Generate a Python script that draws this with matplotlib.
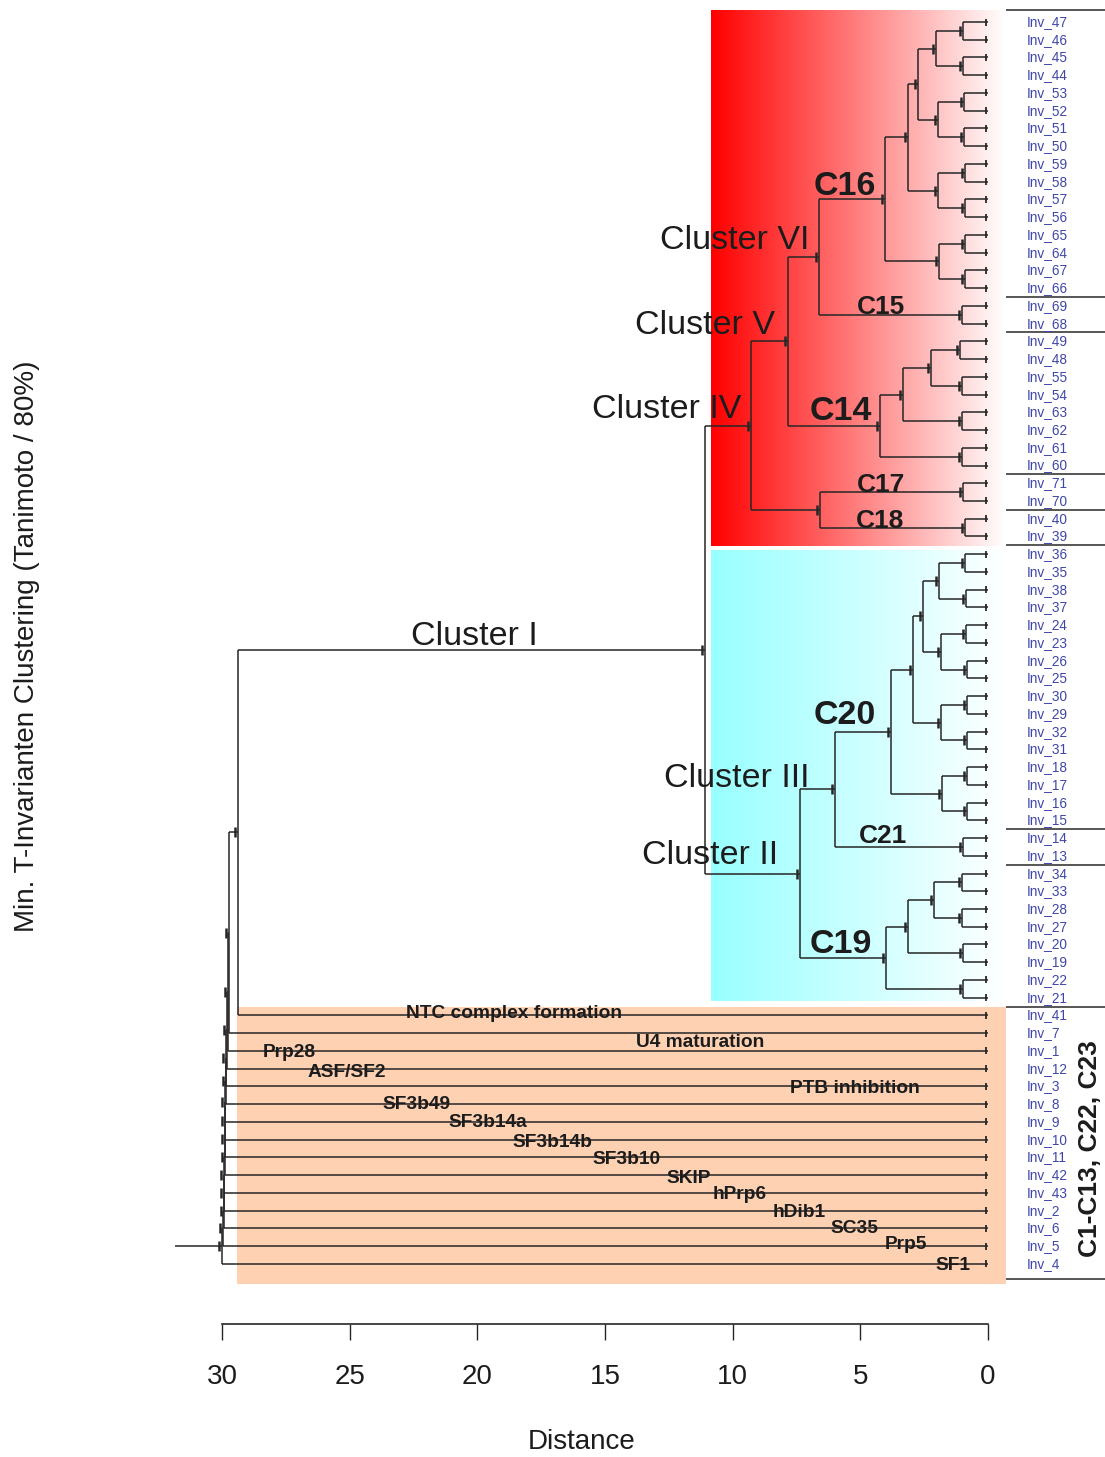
import numpy as np
import matplotlib
matplotlib.use("Agg")
import matplotlib.pyplot as plt
from matplotlib.collections import LineCollection
from matplotlib.patches import Rectangle

plt.rcParams['font.family'] = ['Liberation Sans', 'DejaVu Sans']

# ---------------------------------------------------------------- data
# leaf order, top to bottom
leaves = ["Inv_47", "Inv_46", "Inv_45", "Inv_44", "Inv_53", "Inv_52", "Inv_51", "Inv_50",
          "Inv_59", "Inv_58", "Inv_57", "Inv_56", "Inv_65", "Inv_64", "Inv_67", "Inv_66",
          "Inv_69", "Inv_68",
          "Inv_49", "Inv_48", "Inv_55", "Inv_54", "Inv_63", "Inv_62", "Inv_61", "Inv_60",
          "Inv_71", "Inv_70", "Inv_40", "Inv_39",
          "Inv_36", "Inv_35", "Inv_38", "Inv_37", "Inv_24", "Inv_23", "Inv_26", "Inv_25",
          "Inv_30", "Inv_29", "Inv_32", "Inv_31", "Inv_18", "Inv_17", "Inv_16", "Inv_15",
          "Inv_14", "Inv_13",
          "Inv_34", "Inv_33", "Inv_28", "Inv_27", "Inv_20", "Inv_19", "Inv_22", "Inv_21",
          "Inv_41", "Inv_7", "Inv_1", "Inv_12", "Inv_3", "Inv_8", "Inv_9", "Inv_10",
          "Inv_11", "Inv_42", "Inv_43", "Inv_2", "Inv_6", "Inv_5", "Inv_4"]

# merges: (node, upper child, lower child, merge distance)
merges_c16 = [
    ("a1", "Inv_47", "Inv_46", 0.97), ("a2", "Inv_45", "Inv_44", 0.97),
    ("a3", "a1", "a2", 2.04),
    ("a4", "Inv_53", "Inv_52", 0.93), ("a5", "Inv_51", "Inv_50", 0.93),
    ("a6", "a4", "a5", 1.95),
    ("a7", "a3", "a6", 2.73),
    ("a8", "Inv_59", "Inv_58", 0.90), ("a9", "Inv_57", "Inv_56", 0.90),
    ("a10", "a8", "a9", 1.95),
    ("a11", "a7", "a10", 3.12),
    ("a12", "Inv_65", "Inv_64", 0.90), ("a13", "Inv_67", "Inv_66", 0.90),
    ("a14", "a12", "a13", 1.91),
    ("C16", "a11", "a14", 4.03),
]
merges_c15 = [("C15", "Inv_69", "Inv_68", 1.03)]
merges_c14 = [
    ("b1", "Inv_49", "Inv_48", 1.10), ("b2", "Inv_55", "Inv_54", 1.03),
    ("b3", "b1", "b2", 2.23),
    ("b4", "Inv_63", "Inv_62", 1.00),
    ("b5", "b3", "b4", 3.32),
    ("b6", "Inv_61", "Inv_60", 1.00),
    ("C14", "b5", "b6", 4.23),
]
merges_c17_c18 = [
    ("C17", "Inv_71", "Inv_70", 0.97),
    ("C18", "Inv_40", "Inv_39", 0.90),
    ("c1", "C17", "C18", 6.58),
]
merges_c20 = [
    ("d1", "Inv_36", "Inv_35", 0.90), ("d2", "Inv_38", "Inv_37", 0.88),
    ("d3", "d1", "d2", 1.91),
    ("d4", "Inv_24", "Inv_23", 0.88), ("d5", "Inv_26", "Inv_25", 0.83),
    ("d6", "d4", "d5", 1.85),
    ("d7", "d3", "d6", 2.56),
    ("d8", "Inv_30", "Inv_29", 0.83), ("d9", "Inv_32", "Inv_31", 0.83),
    ("d10", "d8", "d9", 1.85),
    ("d11", "d7", "d10", 2.95),
    ("d12", "Inv_18", "Inv_17", 0.83), ("d13", "Inv_16", "Inv_15", 0.83),
    ("d14", "d12", "d13", 1.81),
    ("C20", "d11", "d14", 3.81),
]
merges_c21 = [("C21", "Inv_14", "Inv_13", 0.97)]
merges_c19 = [
    ("e1", "Inv_34", "Inv_33", 1.00), ("e2", "Inv_28", "Inv_27", 1.00),
    ("e3", "e1", "e2", 2.10),
    ("e4", "Inv_20", "Inv_19", 0.97),
    ("e5", "e3", "e4", 3.12),
    ("e6", "Inv_22", "Inv_21", 0.97),
    ("C19", "e5", "e6", 4.00),
]
merges_clusters = [
    ("VI", "C16", "C15", 6.62),
    ("V", "VI", "C14", 7.82),
    ("IV", "V", "c1", 9.28),
    ("III", "C20", "C21", 5.99),
    ("II", "III", "C19", 7.36),
    ("I", "IV", "II", 11.08),
]
# singletons that join the tree one after another near the root
chain_leaves = ["Inv_41", "Inv_7", "Inv_1", "Inv_12", "Inv_3", "Inv_8", "Inv_9", "Inv_10",
                "Inv_11", "Inv_42", "Inv_43", "Inv_2", "Inv_6", "Inv_5", "Inv_4"]
chain_heights = [29.38, 29.73, 29.75, 29.79, 29.83, 29.86, 29.87, 29.88,
                 29.89, 29.90, 29.91, 29.92, 29.94, 29.96, 29.99]
root_stem = 1.85

# boxed groups on the label column (sizes, top to bottom)
group_sizes = [16, 2, 8, 2, 2, 16, 2, 8, 15]

cluster_names = ["Cluster I", "Cluster II", "Cluster III", "Cluster IV", "Cluster V", "Cluster VI"]
subcluster_names = ["C16", "C14", "C20", "C19", "C15", "C17", "C18", "C21"]
process_labels = ["NTC complex formation", "U4 maturation", "Prp28", "ASF/SF2",
                  "PTB inhibition", "SF3b49", "SF3b14a", "SF3b14b", "SF3b10", "SKIP",
                  "hPrp6", "hDib1", "SC35", "Prp5", "SF1"]
distance_ticks = [0, 5, 10, 15, 20, 25, 30]

# ---------------------------------------------------------------- layout
W, H = 1105, 1457
X_ZERO_PX, PX_PER_DIST = 988.0, 25.53
ROW0_PX, ROW_PX = 22.0, 17.74


def dx(px):
    """horizontal pixel -> distance"""
    return (X_ZERO_PX - px) / PX_PER_DIST


def ry(py):
    """vertical pixel -> leaf row"""
    return 1 + (py - ROW0_PX) / ROW_PX


LINE = '#262626'
TEXT = '#1c1c1c'
LEAF_COL = '#3f46a8'

fig = plt.figure(figsize=(W / 100, H / 100), dpi=100)
ax = fig.add_axes([0, 0, 1, 1])

# ---------------------------------------------------------------- tree geometry
merges = (merges_c16 + merges_c15 + merges_c14 + merges_c17_c18 + merges_c20 +
          merges_c21 + merges_c19 + merges_clusters)
prev = "I"
for k, (leaf, h) in enumerate(zip(chain_leaves, chain_heights)):
    node = f"r{k + 1}"
    merges.append((node, prev, leaf, h))
    prev = node
root = prev

ypos = {name: i + 1 for i, name in enumerate(leaves)}
height = {name: 0.0 for name in leaves}
for node, a, b, h in merges:
    ypos[node] = (ypos[a] + ypos[b]) / 2
    height[node] = h

segs = []
for node, a, b, h in merges:
    segs.append([(h, ypos[a]), (h, ypos[b])])
    for c in (a, b):
        segs.append([(h, ypos[c]), (height[c], ypos[c])])
segs.append([(height[root], ypos[root]), (height[root] + root_stem, ypos[root])])
ax.add_collection(LineCollection(segs, colors=LINE, linewidths=1.1, zorder=3))

# node markers and leaf markers
node_off, node_half = 3 / PX_PER_DIST, 5 / ROW_PX
ticks = [[(height[n] + node_off, ypos[n] - node_half), (height[n] + node_off, ypos[n] + node_half)]
         for n, _, _, _ in merges]
ax.add_collection(LineCollection(ticks, colors=LINE, linewidths=1.8, zorder=3))
leaf_off, leaf_half = 2 / PX_PER_DIST, 3.5 / ROW_PX
lticks = [[(leaf_off, ypos[l] - leaf_half), (leaf_off, ypos[l] + leaf_half)] for l in leaves]
ax.add_collection(LineCollection(lticks, colors=LINE, linewidths=1.3, zorder=3))

# ---------------------------------------------------------------- shaded backgrounds
ramp = np.linspace(0, 1, 256)
red = np.dstack([np.ones_like(ramp), ramp, ramp])
cyan_left = np.array([0.60, 1.0, 1.0])
cyan = (cyan_left[None, :] * (1 - ramp[:, None]) + ramp[:, None])[None, :, :]
box_l, box_r = dx(711), dx(1006)
ax.imshow(red, extent=(box_l, box_r, ry(546), ry(10)), aspect='auto',
          interpolation='bilinear', zorder=0)
ax.imshow(cyan, extent=(box_l, box_r, ry(1000.5), ry(549.5)), aspect='auto',
          interpolation='bilinear', zorder=0)
ax.add_patch(Rectangle((dx(237), ry(1007)), dx(1006) - dx(237), ry(1284) - ry(1007),
                       facecolor='#fdd1b2', edgecolor='none', zorder=0))

# ---------------------------------------------------------------- leaf labels and group rules
for l in leaves:
    ax.text(dx(1027), ypos[l], l, ha='left', va='center', fontsize=9.8,
            color=LEAF_COL, zorder=4)
bounds = [ry(10)] + [b + 0.5 for b in np.cumsum(group_sizes)[:-1]] + [ry(1279)]
ax.hlines(bounds, dx(1006), dx(W), colors='#3a3a3a', linewidth=1.2, zorder=3)

# ---------------------------------------------------------------- annotations
cluster_pos = [(474.5, 645), (710, 864), (737, 787), (667, 418), (705, 334), (735, 249)]
for name, (px, py) in zip(cluster_names, cluster_pos):
    ax.text(dx(px), ry(py), name, ha='center', va='baseline', fontsize=24.5,
            color=TEXT, zorder=5)

sub_pos = [(844.5, 195, 24.5), (840.5, 420, 24.5), (845, 724, 24.5), (840.5, 953, 24.5),
           (881, 314, 19), (880.5, 492, 19), (880.5, 528, 19), (883, 843, 19)]
for name, (px, py, fs) in zip(subcluster_names, sub_pos):
    ax.text(dx(px), ry(py), name, ha='center', va='baseline', fontsize=fs,
            fontweight='bold', color=TEXT, zorder=5)

process_pos = [(406, 1018), (636, 1047), (263, 1057), (308, 1077), (790, 1093),
               (382, 1109), (448, 1127), (512, 1147), (592, 1164), (666, 1183),
               (713, 1199), (773, 1217), (830, 1233), (885, 1249), (935, 1270)]
for name, (px, py) in zip(process_labels, process_pos):
    ax.text(dx(px), ry(py), name, ha='left', va='baseline', fontsize=13.8,
            fontweight='bold', color=TEXT, zorder=5)

ax.text(dx(1090), ry(1149), "C1-C13, C22, C23", rotation=90, ha='center', va='center',
        fontsize=19, fontweight='bold', color=TEXT, zorder=5)

# ---------------------------------------------------------------- axes
ax.set_xlim(dx(0), dx(W))
ax.set_ylim(ry(H), ry(0))
for s in ('top', 'right', 'left'):
    ax.spines[s].set_visible(False)
ax.spines['bottom'].set_position(('data', ry(1324)))
ax.spines['bottom'].set_bounds(0, 30)
ax.spines['bottom'].set_color(LINE)
ax.spines['bottom'].set_linewidth(1.2)
ax.set_yticks([])
ax.set_xticks(distance_ticks)
ax.set_xticklabels([str(t) for t in distance_ticks])
ax.tick_params(axis='x', direction='out', length=11.5, width=1.0, pad=17,
               labelsize=20, colors=LINE, labelcolor=TEXT)
ax.patch.set_visible(False)

fig.text(582 / W, 1 - 1442 / H, "Distance", ha='center', va='center', fontsize=20, color=TEXT)
fig.text(27 / W, 1 - 646 / H, "Min. T-Invarianten Clustering (Tanimoto / 80%)",
         rotation=90, ha='center', va='center', fontsize=20, color=TEXT)

fig.savefig("out.png", dpi=100)
